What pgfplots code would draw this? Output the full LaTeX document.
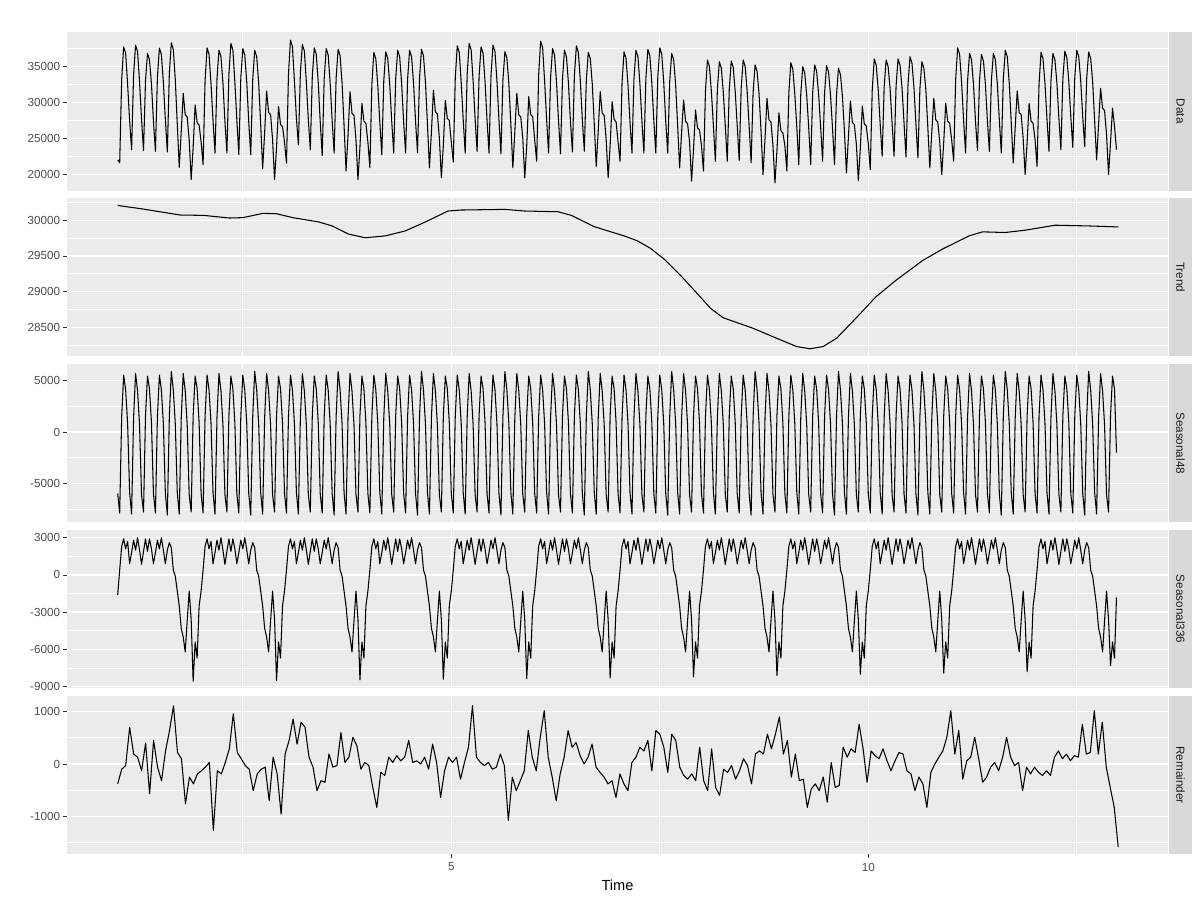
\documentclass[border=0pt]{standalone}
\usepackage{fontspec}
\setmainfont{Liberation Sans}
\usepackage{pgfplots}
\usepackage{pgfplotstable}
\pgfplotsset{compat=1.18}
\definecolor{panelbg}{HTML}{EBEBEB}
\definecolor{stripbg}{HTML}{D9D9D9}
\definecolor{labgray}{HTML}{4D4D4D}
\definecolor{tickgray}{HTML}{333333}
\definecolor{striptxt}{HTML}{1A1A1A}

% columns: Data, Seasonal48, Seasonal336 ; 6 samples per day (every 4 h), 84 days
\pgfplotstableread{
d s48 s336
22000 -6000 -1600
21600 -7900 400
33240 1500 2300
37760 5550 2900
36860 4100 2100
32500 800 2700
27500 -5900 900
23420 -8000 1800
33920 1400 2800
38000 5700 2000
37100 4000 3000
32900 700 2000
27700 -6100 850
23300 -7800 1900
33060 1600 2900
36850 5450 1900
35950 4200 2900
32600 900 2100
27400 -6000 900
23200 -7900 1800
33570 1500 2800
37600 5550 2100
36700 4100 3000
32800 800 2000
27600 -6000 900
23100 -8100 2000
34070 1500 2600
38330 5900 2200
37400 4100 400
33200 800 -100
27000 -5900 -1300
20970 -8000 -2500
25970 1400 -4300
31290 5700 -5000
28290 4000 -6200
27990 700 -3700
24800 -6100 -1300
19260 -7800 -3600
23760 1600 -8560
29670 5450 -5400
27170 4200 -6700
26870 900 -2500
24500 -6000 -1300
21340 -7900 400
33060 1500 2300
37620 5550 2900
36720 4100 2100
32600 800 2700
27500 -5900 900
22960 -8000 1800
33280 1400 2800
37290 5700 2000
36390 4000 3000
32700 700 2000
27400 -6100 850
22960 -7800 1900
33960 1600 2900
38240 5450 1900
37340 4200 2900
32900 900 2100
27600 -6000 900
22730 -7900 1800
33390 1500 2800
37530 5550 2100
36630 4100 3000
32800 800 2000
27300 -6000 900
22730 -8100 2000
33210 1500 2600
37290 5900 2200
36390 4100 400
32700 800 -100
27000 -5900 -1300
20790 -8000 -2500
25790 1400 -4300
31610 5700 -5000
28610 4000 -6200
28310 700 -3700
24800 -6100 -1300
19260 -7800 -3600
23760 1600 -8500
29440 5450 -5400
26940 4200 -6700
26640 900 -2500
24500 -6000 -1300
21570 -7900 400
33900 1500 2300
38700 5550 2900
37800 4100 2100
33000 800 2700
27800 -5900 900
24100 -8000 1800
34180 1400 2800
38100 5700 2000
37200 4000 3000
32900 700 2000
27600 -6100 850
23400 -7800 1900
33640 1600 2900
37620 5450 1900
36720 4200 2900
32800 900 2100
27300 -6000 900
22600 -7900 1800
33350 1500 2800
37530 5550 2100
36630 4100 3000
32700 800 2000
27500 -6000 900
22960 -8100 2000
33380 1500 2600
37430 5900 2200
36530 4100 400
32700 800 -100
26800 -5900 -1300
20450 -8000 -2500
25450 1400 -4300
31500 5700 -5000
28500 4000 -6200
28200 700 -3700
24800 -6100 -1300
19260 -7800 -3600
23760 1600 -8450
29900 5450 -5400
27400 4200 -6700
27100 900 -2500
24500 -6000 -1300
20900 -7900 400
32490 1500 2300
36990 5550 2900
36090 4100 2100
32300 800 2700
27300 -5900 900
22730 -8000 1800
33050 1400 2800
37060 5700 2000
36160 4000 3000
32500 700 2000
27400 -6100 850
22960 -7800 1900
33280 1600 2900
37290 5450 1900
36390 4200 2900
32600 900 2100
27300 -6000 900
22960 -7900 1800
33280 1500 2800
37290 5550 2100
36390 4100 3000
32700 800 2000
27400 -6000 900
23000 -8100 2000
33390 1500 2600
37430 5900 2200
36530 4100 400
32800 800 -100
27000 -5900 -1300
20900 -8000 -2500
25900 1400 -4300
31700 5700 -5000
28700 4000 -6200
28400 700 -3700
25000 -6100 -1300
19500 -7800 -3600
24000 1600 -8400
30300 5450 -5400
27800 4200 -6700
27500 900 -2500
24500 -6000 -1300
21700 -7900 400
33360 1500 2300
37900 5550 2900
37000 4100 2100
32800 800 2700
27600 -5900 900
22960 -8000 1800
33960 1400 2800
38240 5700 2000
37340 4000 3000
33000 700 2000
27700 -6100 850
23190 -7800 1900
33680 1600 2900
37760 5450 1900
36860 4200 2900
32900 900 2100
27500 -6000 900
22960 -7900 1800
33790 1500 2800
38000 5550 2100
37100 4100 3000
33000 800 2000
27600 -6000 900
22850 -8100 2000
33110 1500 2600
37100 5900 2200
36200 4100 400
32600 800 -100
27000 -5900 -1300
20900 -8000 -2500
25900 1400 -4300
31290 5700 -5000
28290 4000 -6200
27990 700 -3700
25000 -6100 -1300
19500 -7800 -3600
24000 1600 -8350
30830 5450 -5400
28330 4200 -6700
28030 900 -2500
24800 -6000 -1300
21800 -7900 400
33870 1500 2300
38560 5550 2900
37660 4100 2100
33000 800 2700
27700 -5900 900
22960 -8000 1800
33450 1400 2800
37530 5700 2000
36630 4000 3000
32800 700 2000
27500 -6100 850
22850 -7800 1900
33250 1600 2900
37290 5450 1900
36390 4200 2900
32700 900 2100
27400 -6000 900
23100 -7900 1800
33760 1500 2800
37900 5550 2100
37000 4100 3000
33000 800 2000
27600 -6000 900
23190 -8100 2000
33130 1500 2600
37000 5900 2200
36100 4100 400
32600 800 -100
27000 -5900 -1300
21100 -8000 -2500
26100 1400 -4300
31520 5700 -5000
28520 4000 -6200
28220 700 -3700
24800 -6100 -1300
19500 -7800 -3600
24000 1600 -8300
30130 5450 -5400
27630 4200 -6700
27330 900 -2500
24500 -6000 -1300
21800 -7900 400
32790 1500 2300
37060 5550 2900
36160 4100 2100
32400 800 2700
27300 -5900 900
22960 -8000 1800
33280 1400 2800
37290 5700 2000
36390 4000 3000
32600 700 2000
27400 -6100 850
22960 -7800 1900
33380 1600 2900
37430 5450 1900
36530 4200 2900
32700 900 2100
27500 -6000 900
22960 -7900 1800
33520 1500 2800
37620 5550 2100
36720 4100 3000
32800 800 2000
27400 -6000 900
22960 -8100 2000
32960 1500 2600
36850 5900 2200
35950 4100 400
32400 800 -100
26800 -5900 -1300
20880 -8000 -2500
25880 1400 -4300
30360 5700 -5000
27360 4000 -6200
27060 700 -3700
24500 -6100 -1300
19030 -7800 -3600
23530 1600 -8200
28970 5450 -5400
26470 4200 -6700
26170 900 -2500
24000 -6000 -1300
20430 -7900 400
31590 1500 2300
35930 5550 2900
35030 4100 2100
31500 800 2700
26800 -5900 900
21800 -8000 1800
31810 1400 2800
35700 5700 2000
34800 4000 3000
31400 700 2000
26700 -6100 850
21800 -7800 1900
31880 1600 2900
35800 5450 1900
34900 4200 2900
31500 900 2100
26800 -6000 900
21900 -7900 1800
32000 1500 2800
35930 5550 2100
35030 4100 3000
31600 800 2000
26700 -6000 900
21600 -8100 2000
31420 1500 2600
35240 5900 2200
34340 4100 400
31200 800 -100
26000 -5900 -1300
19950 -8000 -2500
24950 1400 -4300
30590 5700 -5000
27590 4000 -6200
27290 700 -3700
24000 -6100 -1300
18800 -7800 -3600
23300 1600 -8100
28560 5450 -5400
26060 4200 -6700
25760 900 -2500
24000 -6000 -1300
20430 -7900 400
31320 1500 2300
35560 5550 2900
34660 4100 2100
31200 800 2700
26600 -5900 900
21340 -8000 1800
31180 1400 2800
35010 5700 2000
34110 4000 3000
31000 700 2000
26500 -6100 850
21340 -7800 1900
31350 1600 2900
35240 5450 1900
34340 4200 2900
31100 900 2100
26700 -6000 900
21800 -7900 1800
31410 1500 2800
35150 5550 2100
34250 4100 3000
31000 800 2000
26400 -6000 900
21340 -8100 2000
31020 1500 2600
34780 5900 2200
33880 4100 400
30800 800 -100
26000 -5900 -1300
20180 -8000 -2500
25180 1400 -4300
30220 5700 -5000
27220 4000 -6200
26920 700 -3700
24200 -6100 -1300
19120 -7800 -3600
23620 1600 -8000
29520 5450 -5400
27020 4200 -6700
26720 900 -2500
24300 -6000 -1300
20650 -7900 400
31760 1500 2300
36080 5550 2900
35180 4100 2100
31800 800 2700
27000 -5900 900
22500 -8000 1800
32170 1400 2800
35930 5700 2000
35030 4000 3000
31900 700 2000
27100 -6100 850
22500 -7800 1900
32280 1600 2900
36080 5450 1900
35180 4200 2900
32000 900 2100
27200 -6000 900
22400 -7900 1800
32470 1500 2800
36390 5550 2100
35490 4100 3000
32100 800 2000
27000 -6000 900
22270 -8100 2000
31940 1500 2600
35700 5900 2200
34800 4100 400
31800 800 -100
26500 -5900 -1300
20880 -8000 -2500
25880 1400 -4300
30590 5700 -5000
27590 4000 -6200
27290 700 -3700
24500 -6100 -1300
19950 -7800 -3600
24450 1600 -7900
29900 5450 -5400
27400 4200 -6700
27100 900 -2500
24800 -6000 -1300
21800 -7900 400
33190 1500 2300
37620 5550 2900
36720 4100 2100
32800 800 2700
27600 -5900 900
22960 -8000 1800
32960 1400 2800
36850 5700 2000
35950 4000 3000
32500 700 2000
27400 -6100 850
23300 -7800 1900
32950 1600 2900
36700 5450 1900
35800 4200 2900
32500 900 2100
27400 -6000 900
23190 -7900 1800
33030 1500 2800
36850 5550 2100
35950 4100 3000
32600 800 2000
27600 -6000 900
22960 -8100 2000
33280 1500 2600
37290 5900 2200
36390 4100 400
32700 800 -100
27200 -5900 -1300
21570 -8000 -2500
26570 1400 -4300
31610 5700 -5000
28610 4000 -6200
28310 700 -3700
25000 -6100 -1300
19950 -7800 -3600
24450 1600 -7800
29900 5450 -5400
27400 4200 -6700
27100 900 -2500
24800 -6000 -1300
21100 -7900 400
32540 1500 2300
36990 5550 2900
36090 4100 2100
32600 800 2700
27700 -5900 900
23190 -8000 1800
33030 1400 2800
36850 5700 2000
35950 4000 3000
32700 700 2000
27800 -6100 850
23420 -7800 1900
33330 1600 2900
37180 5450 1900
36280 4200 2900
32900 900 2100
28000 -6000 900
23750 -7900 1800
33500 1500 2800
37290 5550 2100
36390 4100 3000
33000 800 2000
28000 -6000 900
23880 -8100 2000
33370 1500 2600
37060 5900 2200
36160 4100 400
32900 800 -100
27500 -5900 -1300
22000 -8000 -2500
27000 1400 -4300
31980 5700 -5000
29210 4000 -6200
28900 700 -3700
25500 -6100 -1300
19950 -7800 -3600
24450 1600 -7300
29210 5450 -5400
26700 4200 -6700
23420 -2000 -1800
}\seasonal

% remainder: 252 samples evenly spaced from 1 to 12.997
\pgfplotstableread{
r
-380
-100
-30
700
190
130
-130
400
-570
450
-60
-320
250
640
1110
220
100
-760
-250
-380
-190
-130
-60
30
-1270
-130
-190
30
290
960
220
100
-30
-100
-510
-190
-100
-60
-700
130
-190
-960
190
450
860
380
800
700
130
-60
-510
-320
-350
190
-60
-30
600
30
130
510
350
-100
30
-30
-450
-830
-160
-220
130
30
160
60
130
450
30
60
0
130
-100
380
30
-640
-130
130
30
130
-290
30
320
1115
130
30
-30
30
-100
-60
190
-30
-1080
-250
-510
-320
-130
640
130
-130
510
1020
130
-250
-700
-190
130
640
320
410
160
0
130
380
-60
-160
-250
-380
-320
-640
-190
-380
-510
30
130
320
250
450
-130
640
570
320
-160
570
450
-60
-220
-290
-190
-320
320
-320
-510
290
-450
-600
-100
-160
-30
-290
-130
100
-30
-380
190
250
190
570
290
570
900
190
450
-250
190
-320
-290
-830
-480
-380
-510
-250
-730
30
-450
-410
320
130
290
220
760
290
-350
250
160
100
290
60
-130
60
220
190
-130
-190
-510
-250
-380
-830
-160
0
130
250
510
1020
190
640
-290
60
130
510
100
-350
-250
-60
30
-130
130
510
130
-30
30
-510
-60
-190
-60
-160
-220
-130
-220
130
250
100
190
60
160
130
760
190
220
1020
190
800
-60
-450
-830
-1590
}\remainder

\pgfplotsset{
  panel/.style={
    scale only axis, width=825.75bp, height=118.95bp,
    anchor=south west,
    xmin=0.392, xmax=13.594,
    scaled ticks=false,
    axis background/.style={fill=panelbg},
    axis x line*=bottom, axis y line*=left,
    axis line style={draw=none,-},
    grid=both,
    major grid style={white, line width=1.1pt},
    minor grid style={white, line width=0.55pt},
    xtick={5,10}, minor xtick={2.5,7.5,12.5},
    tick align=outside,
    major tick length=2.75bp, minor tick length=0pt,
    tick style={tickgray, line width=0.6pt},
    yticklabel style={font=\fontsize{8.8}{10}\selectfont, text=labgray, inner sep=0pt, xshift=-2.2bp},
  },
  upper/.style={xticklabels={}, xtick style={draw=none}},
  ser/.style={black, line width=0.8pt, line join=round, mark=none},
}

\begin{document}
\begin{tikzpicture}
\fill[white] (0,0) rectangle (900bp,675bp);
\path[use as bounding box] (0,0) rectangle (900bp,675bp);

% Data
\begin{axis}[panel, upper, at={(50.25bp,532.05bp)},
  ymin=17720, ymax=39840,
  ytick={20000,25000,30000,35000}, yticklabels={20000,25000,30000,35000},
  minor ytick={22500,27500,32500,37500}]
\addplot[ser] table[x expr=1+\coordindex/42, y=d] {\seasonal};
\end{axis}

% Trend
\begin{axis}[panel, upper, at={(50.25bp,407.625bp)},
  ymin=28091, ymax=30314,
  ytick={28500,29000,29500,30000}, yticklabels={28500,29000,29500,30000},
  minor ytick={28250,28750,29250,29750,30250}]
\addplot[ser] coordinates {
(1.00,30208) (1.28,30162) (1.75,30074) (2.03,30069) (2.34,30032) (2.50,30037)
(2.74,30097) (2.90,30093) (3.10,30037) (3.41,29977) (3.57,29921) (3.77,29806)
(3.97,29755) (4.21,29782) (4.45,29852) (4.69,29977) (4.96,30130) (5.12,30144)
(5.64,30153) (5.88,30130) (6.28,30120) (6.44,30069) (6.71,29912) (7.07,29782)
(7.23,29713) (7.39,29606) (7.55,29458) (7.75,29227) (7.95,28972) (8.11,28764)
(8.26,28634) (8.62,28486) (8.90,28347) (9.14,28231) (9.30,28199) (9.46,28231)
(9.62,28347) (9.85,28625) (10.09,28926) (10.33,29157) (10.65,29435) (10.89,29597)
(11.21,29782) (11.37,29838) (11.64,29829) (11.88,29861) (12.24,29931) (12.64,29921)
(13.00,29907)};
\end{axis}

% Seasonal48
\begin{axis}[panel, upper, at={(50.25bp,283.125bp)},
  ymin=-8821, ymax=6637,
  ytick={-5000,0,5000}, yticklabels={-5000,0,5000},
  minor ytick={-7500,-2500,2500}]
\addplot[ser] table[x expr=1+\coordindex/42, y=s48] {\seasonal};
\end{axis}

% Seasonal336
\begin{axis}[panel, upper, at={(50.25bp,158.7bp)},
  ymin=-9137, ymax=3636,
  ytick={-9000,-6000,-3000,0,3000}, yticklabels={-9000,-6000,-3000,0,3000},
  minor ytick={-7500,-4500,-1500,1500}]
\addplot[ser] table[x expr=1+\coordindex/42, y=s336] {\seasonal};
\end{axis}

% Remainder
\begin{axis}[panel, at={(50.25bp,34.275bp)},
  ymin=-1727, ymax=1306,
  ytick={-1000,0,1000}, yticklabels={-1000,0,1000},
  minor ytick={-1500,-500,500},
  xticklabels={5,10},
  xticklabel style={font=\fontsize{8.8}{10}\selectfont, text=labgray, inner sep=0pt, yshift=-3.5bp},
  xlabel={Time},
  xlabel style={font=\fontsize{11}{13}\selectfont, at={(axis description cs:0.5,0)}, anchor=center, inner sep=0pt, yshift=-23bp}]
\addplot[ser] table[x expr=1+\coordindex*0.047797, y=r] {\remainder};
\end{axis}

% facet strips
\fill[stripbg] (876.75bp,532.05bp) rectangle (894bp,651bp);
\fill[stripbg] (876.75bp,407.625bp) rectangle (894bp,526.575bp);
\fill[stripbg] (876.75bp,283.125bp) rectangle (894bp,402.075bp);
\fill[stripbg] (876.75bp,158.7bp) rectangle (894bp,277.65bp);
\fill[stripbg] (876.75bp,34.275bp) rectangle (894bp,153.225bp);
\begin{scope}[every node/.style={rotate=-90, font=\fontsize{8.8}{10}\selectfont, text=striptxt, inner sep=0pt}]
\node at (885.375bp,591.525bp) {Data};
\node at (885.375bp,467.1bp) {Trend};
\node at (885.375bp,342.6bp) {Seasonal48};
\node at (885.375bp,218.175bp) {Seasonal336};
\node at (885.375bp,93.75bp) {Remainder};
\end{scope}
\end{tikzpicture}
\end{document}
